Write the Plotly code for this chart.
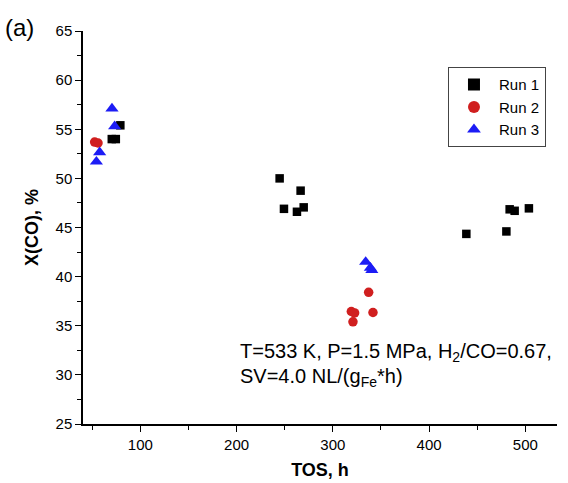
import plotly.graph_objects as go

# Data
run1_x = [70.3, 74.5, 79.2, 244.7, 266.5, 249.2, 262.7, 269.7, 438.7, 480.3, 483.7, 488.9, 503.7]
run1_y = [54.0, 54.0, 55.4, 50.0, 48.75, 46.9, 46.6, 47.05, 44.35, 44.6, 46.85, 46.7, 46.95]
run2_x = [52.5, 56.0, 319.2, 322.6, 320.9, 337.2, 341.7]
run2_y = [53.7, 53.6, 36.45, 36.3, 35.4, 38.4, 36.35]
run3_x = [54.3, 57.7, 73.3, 70.5, 334.1, 339.0, 340.5]
run3_y = [51.7, 52.65, 55.3, 57.1, 41.5, 40.9, 40.65]

series_names = ["Run 1", "Run 2", "Run 3"]
x_ticks = [100, 200, 300, 400, 500]
y_ticks = [25, 30, 35, 40, 45, 50, 55, 60, 65]

FONT = "Liberation Sans, Arial, Helvetica, sans-serif"

fig = go.Figure()
fig.add_trace(go.Scatter(x=run1_x, y=run1_y, mode="markers", name=series_names[0],
                         marker=dict(symbol="square", size=8.5, color="#000000")))
fig.add_trace(go.Scatter(x=run2_x, y=run2_y, mode="markers", name=series_names[1],
                         marker=dict(symbol="circle", size=9.5, color="#d01f1f")))
fig.add_trace(go.Scatter(x=run3_x, y=run3_y, mode="markers", name=series_names[2],
                         marker=dict(symbol="triangle-up", size=11.5, color="#1c1cf5")))

axis_common = dict(
    showgrid=False, zeroline=False, showline=True, linecolor="black", linewidth=1.5,
    ticks="outside", ticklen=6, tickwidth=1.3, tickcolor="black",
    tickfont=dict(family=FONT, size=15, color="black"),
    mirror=False, automargin=False,
)

fig.update_layout(
    width=568, height=483,
    margin=dict(l=83, r=11, t=31, b=59),
    paper_bgcolor="white", plot_bgcolor="white",
    font=dict(family=FONT, color="black"),
    showlegend=True,
    legend=dict(
        x=0.770, y=0.908, xanchor="left", yanchor="top",
        bordercolor="#444", borderwidth=1, bgcolor="white",
        font=dict(family=FONT, size=15, color="black"),
        tracegroupgap=0, itemsizing="constant", itemwidth=40,
    ),
    xaxis=dict(
        range=[40.4, 532.9], tickvals=x_ticks,
        minor=dict(dtick=50, tick0=0, ticklen=4, tickwidth=1.2, tickcolor="black", ticks="outside"),
        title=dict(text="<b>TOS, h</b>", font=dict(family=FONT, size=18, color="black"), standoff=12),
        **axis_common,
    ),
    yaxis=dict(
        range=[25, 65], tickvals=y_ticks,
        minor=dict(dtick=2.5, tick0=0, ticklen=4, tickwidth=1.2, tickcolor="black", ticks="outside"),
        title=dict(text="<b>X(CO), %</b>", font=dict(family=FONT, size=18, color="black"), standoff=12),
        **axis_common,
    ),
    annotations=[
        dict(text="T=533 K, P=1.5 MPa, H<sub>2</sub>/CO=0.67,", xref="paper", yref="paper",
             x=0.327, y=0.183, xanchor="left", yanchor="middle", showarrow=False,
             font=dict(family=FONT, size=20, color="black")),
        dict(text="SV=4.0 NL/(g<sub>Fe</sub>*h)", xref="paper", yref="paper",
             x=0.327, y=0.118, xanchor="left", yanchor="middle", showarrow=False,
             font=dict(family=FONT, size=20, color="black")),
        dict(text="(a)", xref="paper", yref="paper",
             x=-0.168, y=1.008, xanchor="left", yanchor="middle", showarrow=False,
             font=dict(family=FONT, size=24, color="black")),
    ],
)

fig.write_html("out.html", config={"displayModeBar": False},
               post_script="document.body.style.margin='0';")
